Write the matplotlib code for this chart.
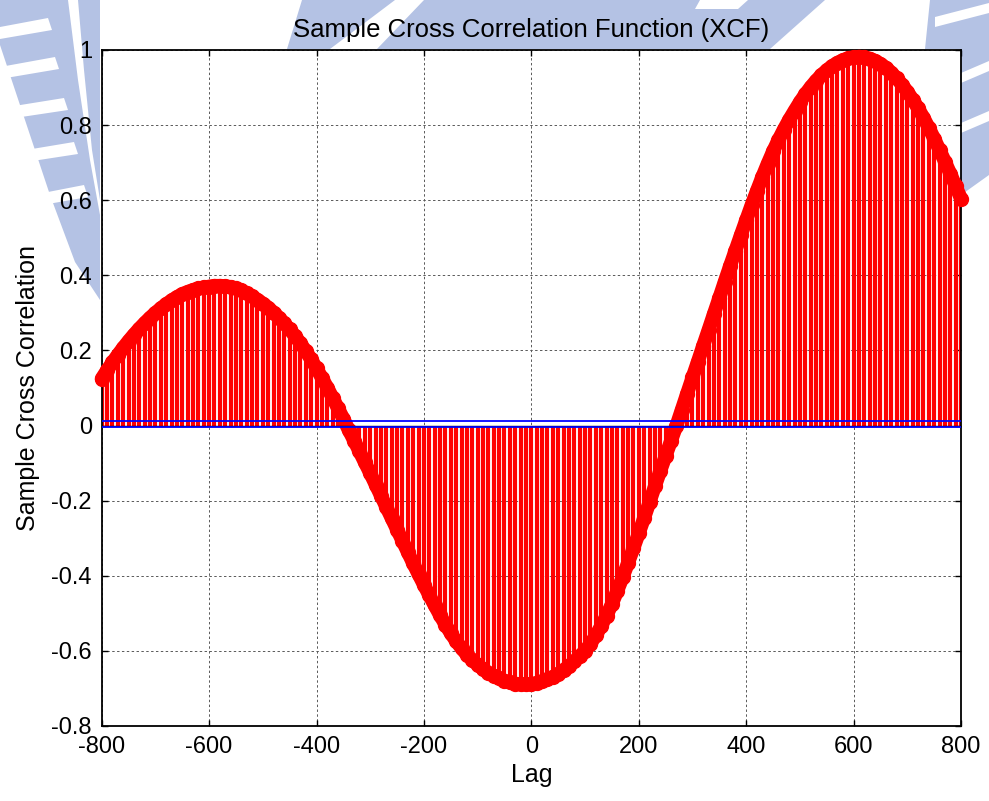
import numpy as np
import matplotlib
matplotlib.use("Agg")
import matplotlib.pyplot as plt
from matplotlib.patches import Polygon

plt.rcParams['font.family'] = ['Liberation Sans', 'DejaVu Sans']

# lags (every 10th lag)
lags = np.arange(-800, 801, 10)

# sample cross correlation
xcf = [
    0.125, 0.147, 0.168, 0.188, 0.207, 0.225, 0.242, 0.258, 0.273, 0.287,   # -800..-710
    0.300, 0.312, 0.323, 0.333, 0.342, 0.350, 0.356, 0.361, 0.365, 0.368,   # -700..-610
    0.370, 0.372, 0.372, 0.371, 0.369, 0.365, 0.360, 0.352, 0.344, 0.335,   # -600..-510
    0.325, 0.314, 0.301, 0.287, 0.272, 0.256, 0.238, 0.219, 0.198, 0.176,   # -500..-410
    0.152, 0.127, 0.101, 0.074, 0.046, 0.018, -0.012, -0.040, -0.069, -0.098,  # -400..-310
    -0.127, -0.157, -0.187, -0.217, -0.247, -0.277, -0.307, -0.337, -0.367, -0.396,  # -300..-210
    -0.424, -0.452, -0.479, -0.505, -0.530, -0.553, -0.574, -0.593, -0.610, -0.624,  # -200..-110
    -0.637, -0.648, -0.658, -0.666, -0.673, -0.679, -0.684, -0.687, -0.689, -0.689,  # -100..-10
    -0.688, -0.685, -0.681, -0.676, -0.669, -0.661, -0.651, -0.640, -0.628, -0.614,  # 0..90
    -0.600, -0.581, -0.559, -0.534, -0.506, -0.475, -0.440, -0.404, -0.366, -0.327,  # 100..190
    -0.287, -0.246, -0.204, -0.162, -0.121, -0.081, -0.041, -0.001, 0.042, 0.085,    # 200..290
    0.128, 0.170, 0.213, 0.255, 0.298, 0.340, 0.383, 0.425, 0.466, 0.507,   # 300..390
    0.547, 0.587, 0.625, 0.662, 0.697, 0.730, 0.760, 0.788, 0.814, 0.838,   # 400..490
    0.861, 0.882, 0.901, 0.918, 0.933, 0.946, 0.957, 0.966, 0.973, 0.978,   # 500..590
    0.981, 0.982, 0.981, 0.977, 0.971, 0.963, 0.953, 0.940, 0.925, 0.908,   # 600..690
    0.889, 0.868, 0.845, 0.820, 0.793, 0.764, 0.734, 0.703, 0.671, 0.638,   # 700..790
    0.604,                                                                   # 800
]

# confidence bounds (blue lines just around zero)
upper_bound = 0.012
lower_bound = -0.0045

x_ticks = [-800, -600, -400, -200, 0, 200, 400, 600, 800]
x_tick_labels = ['-800', '-600', '-400', '-200', '0', '200', '400', '600', '800']
y_ticks = [-0.8, -0.6, -0.4, -0.2, 0, 0.2, 0.4, 0.6, 0.8, 1.0]
y_tick_labels = ['-0.8', '-0.6', '-0.4', '-0.2', '0', '0.2', '0.4', '0.6', '0.8', '1']

W, H = 989, 801
fig = plt.figure(figsize=(W / 100, H / 100), dpi=100)

### ---------------------------------------------------------------------- ###
### faint watermark behind the figure (pixel coords, y down)
bg = fig.add_axes([0, 0, 1, 1], zorder=0)
bg.set_xlim(0, W)
bg.set_ylim(H, 0)
bg.axis('off')
wm = '#b4c2e4'

def poly(pts, color):
    bg.add_patch(Polygon(pts, closed=True, facecolor=color, edgecolor='none'))

# left gear band
poly([(0, 0), (68, 0), (78, 80), (90, 160), (100, 215), (100, 300),
      (75, 262), (50, 195), (25, 120), (0, 45)], wm)
poly([(78, 0), (100, 0), (100, 200), (92, 150), (84, 70)], wm)
for (x0, y0, x1, y1) in [(0, 33, 48, 24), (0, 73, 55, 63), (8, 113, 64, 104),
                         (26, 156, 74, 148), (48, 198, 84, 191)]:
    poly([(x0, y0 - 6), (x1, y1 - 6), (x1 + 4, y1 + 6), (x0, y0 + 6)], 'white')

# band behind the title
poly([(302, 0), (825, 0), (770, 49), (287, 49)], wm)
poly([(330, 49), (377, 49), (424, 0), (395, 0)], 'white')
poly([(700, 0), (748, 0), (738, 9), (695, 9)], 'white')

# right gear band
poly([(930, 0), (989, 0), (989, 175), (961, 195), (961, 49), (925, 49)], wm)
for (x0, y0, x1, y1) in [(935, 22, 989, 8), (961, 78, 989, 66), (961, 128, 989, 116)]:
    poly([(x0, y0 - 5), (x1, y1 - 5), (x1, y1 + 5), (x0, y0 + 5)], 'white')

### ---------------------------------------------------------------------- ###
### the stem plot
ax = fig.add_axes([101.7 / W, (H - 726) / H, 859.3 / W, 676 / H], zorder=1)
ax.set_facecolor('white')

ax.vlines(lags, 0, xcf, color='red', lw=3.0, zorder=2)
ax.plot(lags, xcf, color='red', lw=10, solid_capstyle='round', solid_joinstyle='round',
        marker='o', ms=10, mfc='red', mec='red', clip_on=False, zorder=3)

ax.axhline(0, color='black', lw=1.0, zorder=4)
ax.axhline(upper_bound, color='blue', lw=1.3, zorder=4)
ax.axhline(lower_bound, color='blue', lw=1.3, zorder=4)

ax.set_xlim(-800, 800)
ax.set_ylim(-0.8, 1.0)
ax.set_xticks(x_ticks)
ax.set_xticklabels(x_tick_labels)
ax.set_yticks(y_ticks)
ax.set_yticklabels(y_tick_labels)

ax.set_axisbelow(True)
ax.grid(True, color='0.35', lw=0.7, linestyle=(0, (2.5, 2.5)))
for s in ax.spines.values():
    s.set_linewidth(1.3)
    s.set_color('black')
ax.tick_params(direction='in', top=True, right=True, length=4, width=1,
               labelsize=17, pad=7, colors='black')

ax.set_title('Sample Cross Correlation Function (XCF)', fontsize=18.5, pad=9)
ax.set_xlabel('Lag', fontsize=18, labelpad=4)
ax.set_ylabel('Sample Cross Correlation', fontsize=18, labelpad=8)

fig.savefig('out.png', dpi=100)
